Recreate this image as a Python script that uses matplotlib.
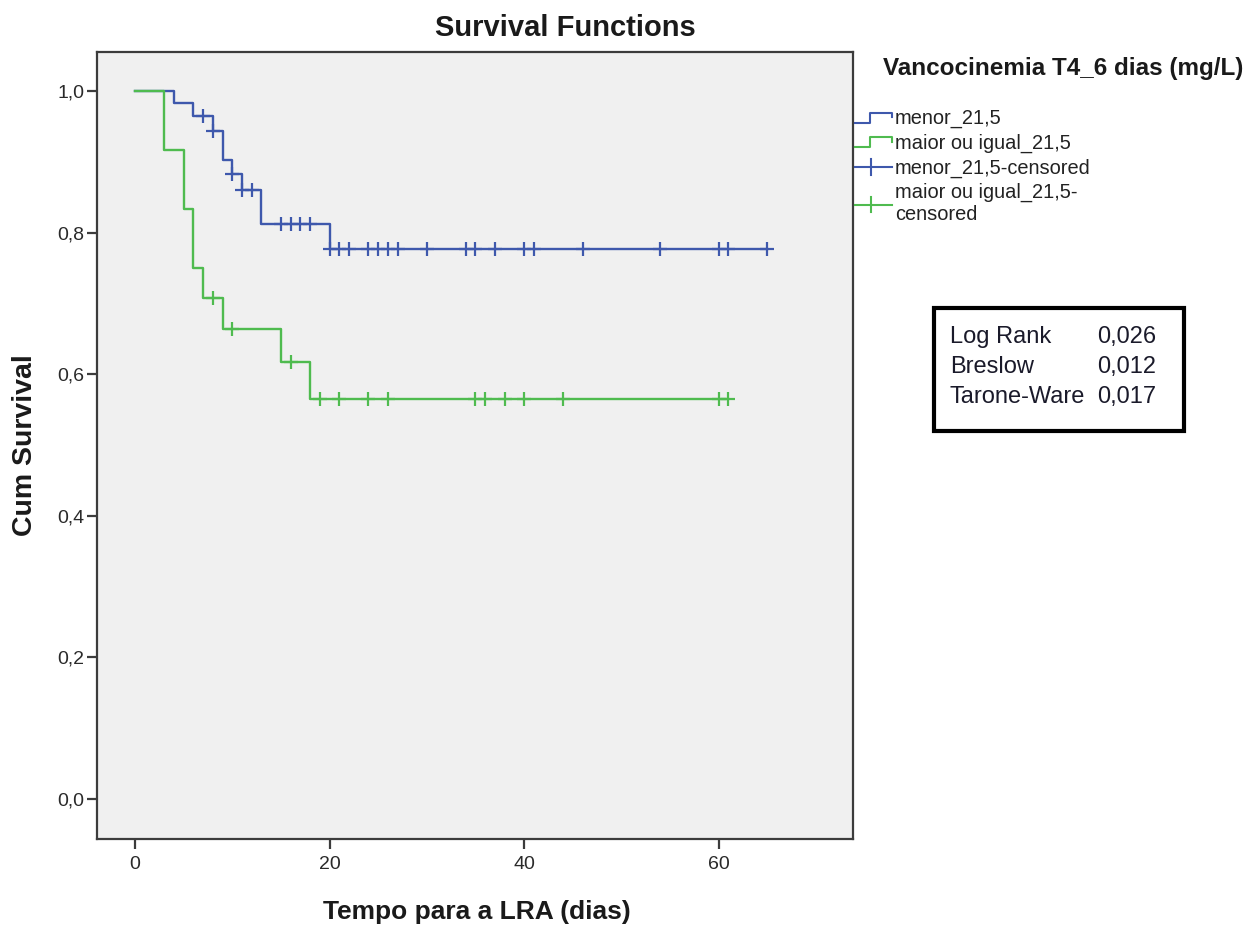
import numpy as np
import matplotlib.pyplot as plt
from matplotlib.lines import Line2D
from matplotlib.patches import Rectangle
from matplotlib.legend_handler import HandlerBase

plt.rcParams['font.family'] = ['Liberation Sans', 'DejaVu Sans']

# Kaplan-Meier steps (event times / survival after the event)
blue_times = [0, 4, 6, 8, 9, 10, 11, 13, 20]
blue_surv = [1.0, 0.983, 0.964, 0.944, 0.903, 0.883, 0.860, 0.812, 0.777]
blue_censored = [7, 8, 10, 11, 12, 15, 16, 17, 18, 20, 21, 22, 24, 25, 26, 27,
                 30, 34, 35, 37, 40, 41, 46, 54, 60, 61, 65]

green_times = [0, 3, 5, 6, 7, 9, 15, 18]
green_surv = [1.0, 0.917, 0.833, 0.750, 0.708, 0.664, 0.617, 0.565]
green_censored = [8, 10, 16, 19, 21, 24, 26, 35, 36, 38, 40, 44, 60, 61]

group_labels = ['menor_21,5', 'maior ou igual_21,5']
censor_labels = ['menor_21,5-censored', 'maior ou igual_21,5-\ncensored']
legend_title = 'Vancocinemia T4_6 dias (mg/L)'

test_names = ['Log Rank', 'Breslow', 'Tarone-Ware']
test_pvalues = ['0,026', '0,012', '0,017']

x_ticks = [0, 20, 40, 60]
y_ticks = [0.0, 0.2, 0.4, 0.6, 0.8, 1.0]

BLUE = '#3e58ac'
GREEN = '#4fbb4f'
AXC = '#3c3c3c'

W, H = 1255, 927
fig = plt.figure(figsize=(W / 100, H / 100), dpi=100)
ax = fig.add_axes([97 / W, 1 - 839 / H, (853 - 97) / W, (839 - 52) / H])
ax.set_facecolor('#f0f0f0')


def km_curve(ax, times, surv, censored, color):
    end = max(max(censored), times[-1])
    ax.step(list(times) + [end], list(surv) + [surv[-1]], where='post',
            color=color, lw=1.7)
    idx = np.searchsorted(times, censored, side='right') - 1
    ax.plot(censored, np.array(surv)[idx], ls='none', marker='+', ms=10,
            mew=1.6, color=color)


km_curve(ax, blue_times, blue_surv, blue_censored, BLUE)
km_curve(ax, green_times, green_surv, green_censored, GREEN)

ax.set_xlim(-3.9, 73.8)
ax.set_ylim(-0.0565, 1.055)
ax.set_xticks(x_ticks)
ax.set_xticklabels([str(v) for v in x_ticks])
ax.set_yticks(y_ticks)
ax.set_yticklabels([f'{v:.1f}'.replace('.', ',') for v in y_ticks])
for s in ax.spines.values():
    s.set_color(AXC)
    s.set_linewidth(1.6)
ax.tick_params(axis='both', direction='out', length=7, width=1.6, color=AXC,
               labelsize=14, labelcolor='#2a2a2a')
ax.tick_params(axis='x', pad=5)
ax.tick_params(axis='y', pad=2)

fig.text(565 / W, 1 - 28 / H, 'Survival Functions', ha='center', va='center',
         fontsize=21, fontweight='bold', color='#1a1a1a')
fig.text(477 / W, 1 - 912 / H, 'Tempo para a LRA (dias)', ha='center',
         va='center', fontsize=19, fontweight='bold', color='#1a1a1a')
fig.text(25 / W, 1 - 445 / H, 'Cum Survival', ha='center', va='center',
         rotation=90, fontsize=20.5, fontweight='bold', color='#1a1a1a')


class StepHandler(HandlerBase):
    def create_artists(self, legend, orig_handle, xdescent, ydescent, width,
                       height, fontsize, trans):
        x0, y0 = -xdescent, -ydescent
        xs = [x0, x0 + 0.4 * width, x0 + 0.4 * width, x0 + width, x0 + width]
        ys = [y0 + 0.1 * height, y0 + 0.1 * height, y0 + 0.8 * height,
              y0 + 0.8 * height, y0 + 0.5 * height]
        ln = Line2D(xs, ys, color=orig_handle.get_color(), lw=1.5,
                    transform=trans)
        return [ln]


class CensorHandler(HandlerBase):
    def create_artists(self, legend, orig_handle, xdescent, ydescent, width,
                       height, fontsize, trans):
        x0, y0 = -xdescent, -ydescent
        yc = y0 + 0.45 * height
        ln = Line2D([x0, x0 + width], [yc, yc], color=orig_handle.get_color(),
                    lw=1.5, transform=trans)
        tk = Line2D([x0 + 0.42 * width] * 2, [yc - 0.55 * height, yc + 0.55 * height],
                    color=orig_handle.get_color(), lw=1.5, transform=trans)
        return [ln, tk]


h_blue = Line2D([], [], color=BLUE)
h_green = Line2D([], [], color=GREEN)
h_blue_c = Line2D([], [], color=BLUE)
h_green_c = Line2D([], [], color=GREEN)
fig.legend([h_blue, h_green, h_blue_c, h_green_c],
           group_labels + censor_labels,
           handler_map={h_blue: StepHandler(), h_green: StepHandler(),
                        h_blue_c: CensorHandler(), h_green_c: CensorHandler()},
           loc='upper left', bbox_to_anchor=(855 / W, 1 - 109 / H),
           frameon=False, borderpad=0, borderaxespad=0, handlelength=1.85,
           handletextpad=0.15, labelspacing=0.27, fontsize=14.4,
           labelcolor='#222222')
fig.text(883 / W, 1 - 68 / H, legend_title, ha='left', va='center',
         fontsize=17.5, fontweight='bold', color='#1a1a1a')

# test statistics box
fig.patches.append(Rectangle((933.5 / W, 1 - 431 / H), (1184 - 933.5) / W,
                             (431 - 307.5) / H, transform=fig.transFigure,
                             facecolor='white', edgecolor='black', lw=3))
for i, (name, pv) in enumerate(zip(test_names, test_pvalues)):
    y = 1 - (337 + 30 * i) / H
    fig.text(950 / W, y, name, ha='left', va='center', fontsize=17,
             color='#1a1a2a')
    fig.text(1156 / W, y, pv, ha='right', va='center', fontsize=17,
             color='#1a1a2a')

fig.savefig('out.png', dpi=100)
